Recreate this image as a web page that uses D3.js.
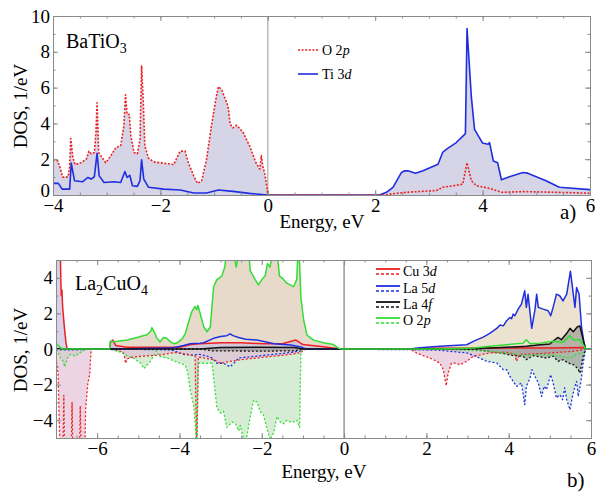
<!DOCTYPE html>
<html>
<head>
<meta charset="utf-8">
<script src="https://cdn.jsdelivr.net/npm/d3@7"></script>
<style>
  body { margin: 0; background: #fff; }
  text { font-family: "Liberation Serif", "Times New Roman", serif; }
</style>
</head>
<body>
<script>
// ---- panel a) BaTiO3 : [energy eV, DOS] ----
const btoO2p = [[-4,2.0],[-3.91,1.9],[-3.86,1.44],[-3.82,1.0],[-3.72,1.0],[-3.69,1.6],[-3.67,3.15],[-3.63,2.1],[-3.59,1.7],[-3.48,1.8],[-3.38,2.0],[-3.33,2.45],[-3.29,2.3],[-3.23,2.37],[-3.2,3.5],[-3.18,5.15],[-3.16,3.5],[-3.15,2.37],[-3.11,2.2],[-3.02,1.8],[-2.92,2.2],[-2.83,2.65],[-2.74,2.75],[-2.68,3.85],[-2.65,5.6],[-2.62,4.5],[-2.58,4.5],[-2.55,3.3],[-2.49,2.37],[-2.43,2.3],[-2.38,3.1],[-2.35,7.2],[-2.32,5.3],[-2.29,2.75],[-2.22,2.05],[-2.12,1.85],[-2.0,1.8],[-1.88,1.75],[-1.75,1.7],[-1.69,2.1],[-1.63,2.45],[-1.54,2.45],[-1.48,1.8],[-1.38,1.07],[-1.31,0.65],[-1.23,0.8],[-1.14,2.0],[-1.05,3.85],[-0.97,5.3],[-0.92,6.05],[-0.86,5.9],[-0.74,4.95],[-0.70,3.95],[-0.65,3.75],[-0.58,3.9],[-0.46,3.5],[-0.34,2.75],[-0.22,1.8],[-0.15,1.45],[-0.12,2.2],[-0.09,1.55],[-0.06,1.25],[-0.03,0.7],[0,0],[2.2,0],[2.27,0.05],[2.58,0.15],[3.14,0.25],[3.26,0.43],[3.63,0.6],[3.71,1.8],[3.79,0.8],[3.88,0.52],[4.13,0.37],[4.35,0.15],[4.75,0.19],[5.37,0.15],[6,0.1]];
const btoTi3d = [[-4,0.65],[-3.9,0.65],[-3.83,0.33],[-3.69,0.33],[-3.66,1.78],[-3.6,0.8],[-3.45,0.74],[-3.35,0.98],[-3.29,0.89],[-3.23,1.02],[-3.18,2.33],[-3.14,1.07],[-3.05,0.7],[-2.86,0.74],[-2.74,0.7],[-2.66,1.31],[-2.62,0.98],[-2.57,1.1],[-2.52,0.52],[-2.43,0.48],[-2.38,0.8],[-2.35,1.96],[-2.31,0.89],[-2.22,0.43],[-1.94,0.33],[-1.63,0.28],[-1.38,0.11],[-1.14,0.11],[-0.92,0.28],[-0.65,0.2],[-0.34,0.09],[0,0],[2.08,0],[2.21,0.15],[2.33,0.43],[2.49,1.26],[2.55,1.35],[2.61,1.35],[2.75,1.22],[2.89,1.35],[3.17,1.72],[3.26,2.4],[3.35,2.6],[3.51,2.93],[3.68,3.43],[3.71,9.3],[3.79,5.5],[3.85,3.67],[4.0,2.9],[4.10,2.83],[4.13,2.93],[4.2,1.9],[4.28,1.8],[4.35,0.85],[4.5,1.02],[4.75,1.26],[4.84,1.22],[5.18,0.8],[5.43,0.43],[6,0.3]];

// ---- panel b) La2CuO4 : spin up (+) and spin down (-) ----
const lcoCu3dUp = [[-7,6],[-6.9,6],[-6.88,3.6],[-6.87,3.0],[-6.855,3.3],[-6.84,2.4],[-6.8,1.3],[-6.76,0.4],[-6.73,0],[-5.7,0],[-5.68,0.35],[-5.62,0.5],[-5.55,0.2],[-5.27,0.1],[-4.0,0.1],[-3.72,0.25],[-3.5,0.3],[-3.0,0.35],[-2.5,0.35],[-2.0,0.3],[-1.5,0.3],[-1.17,0.5],[-1.0,0.25],[-0.5,0.12],[-0.1,0],[1.5,0],[2.0,0.04],[5.0,0.06],[5.8,0.08],[5.87,0],[6,0]];
const lcoCu3dDn = [[-7,-0.5],[-6.95,-1.4],[-6.9,-6],[-6.83,-6],[-6.81,-2.6],[-6.79,-6],[-6.63,-6],[-6.61,-3.0],[-6.59,-6],[-6.43,-6],[-6.41,-3.2],[-6.39,-6],[-6.3,-6],[-6.28,-3.4],[-6.23,-2.0],[-6.18,-1.4],[-6.15,-0.2],[-6.12,0],[-5.7,0],[-5.4,-0.15],[-5.36,-0.22],[-5.33,-0.5],[-5.31,-0.8],[-5.27,-0.55],[-5.13,-0.46],[-4.9,-0.4],[-4.5,-0.35],[-4.14,-0.2],[-3.8,-0.3],[-3.62,-0.4],[-3.58,-6],[-3.54,-0.45],[-3.17,-0.6],[-3.0,-0.8],[-2.77,-0.7],[-2.5,-0.6],[-2.12,-0.5],[-1.7,-0.4],[-1.3,-0.3],[-1.05,-0.2],[-0.98,-0.05],[-0.9,0],[1.6,0],[1.76,-0.22],[1.92,-0.37],[2.09,-0.51],[2.25,-0.69],[2.33,-0.79],[2.41,-1.16],[2.48,-2.06],[2.53,-1.35],[2.61,-0.79],[2.7,-0.8],[2.82,-0.88],[2.98,-0.69],[3.14,-0.41],[3.54,-0.22],[3.95,-0.19],[4.15,-0.3],[4.19,-0.69],[4.27,-0.3],[4.76,-0.26],[5.57,-0.13],[5.87,0],[6,0]];
const lcoLa5dUp = [[-7,0],[-5.7,0],[-4.2,0.05],[-3.9,0.2],[-3.74,0.3],[-3.5,0.33],[-3.41,0.35],[-3.17,0.6],[-3.0,0.7],[-2.85,0.75],[-2.77,0.85],[-2.7,0.75],[-2.56,0.65],[-2.4,0.55],[-2.12,0.5],[-1.7,0.3],[-1.3,0.22],[-1.05,0.12],[-0.98,0.05],[-0.9,0],[1.6,0],[1.84,0.07],[2.33,0.15],[2.98,0.24],[3.14,0.43],[3.38,0.67],[3.54,0.88],[3.71,1.16],[3.79,1.35],[3.87,1.3],[3.95,1.59],[4.03,1.77],[4.07,1.7],[4.11,1.96],[4.15,1.87],[4.23,2.24],[4.31,2.52],[4.39,3.27],[4.43,2.34],[4.47,3.08],[4.56,1.16],[4.64,2.24],[4.68,3.08],[4.72,2.34],[4.84,2.24],[4.96,2.15],[5.02,1.87],[5.08,2.34],[5.16,3.08],[5.24,2.99],[5.32,2.7],[5.41,3.08],[5.5,4.37],[5.57,3.08],[5.61,2.34],[5.65,3.46],[5.71,3.08],[5.77,1.25],[5.83,0.33],[5.87,0],[6,0]];
const lcoLa5dDn = [[-7,0],[-6.95,-0.05],[-6.5,-0.05],[-6.2,0],[-5.7,0],[-4.2,-0.05],[-3.9,-0.3],[-3.7,-0.35],[-3.5,-0.3],[-3.33,-0.4],[-3.21,-0.5],[-3.09,-0.8],[-2.93,-0.8],[-2.77,-1.0],[-2.68,-0.8],[-2.56,-0.5],[-2.12,-0.4],[-1.7,-0.3],[-1.3,-0.2],[-1.05,-0.1],[-0.98,0],[1.68,-0.04],[2.33,-0.07],[2.98,-0.22],[3.3,-0.51],[3.46,-0.69],[3.71,-0.79],[3.79,-0.97],[3.87,-1.16],[3.95,-1.16],[4.03,-1.54],[4.11,-1.82],[4.19,-2.1],[4.31,-1.91],[4.39,-3.13],[4.43,-2.1],[4.52,-1.63],[4.56,-1.16],[4.64,-1.54],[4.72,-1.91],[4.8,-2.66],[4.86,-2.1],[4.92,-2.28],[5.02,-1.44],[5.08,-1.91],[5.16,-2.75],[5.24,-2.57],[5.31,-2.85],[5.36,-2.19],[5.41,-2.85],[5.49,-3.41],[5.55,-2.66],[5.61,-2.1],[5.65,-1.82],[5.69,-2.66],[5.75,-1.91],[5.81,-0.79],[5.87,0],[6,0]];
const lcoLa4fUp = [[-7,0],[-3.5,0],[-3.0,0.08],[-2.0,0.1],[-1.2,0.08],[-1.0,0],[3.14,0.02],[3.95,0.1],[4.43,0.15],[4.76,0.24],[5.0,0.28],[5.12,0.52],[5.2,0.65],[5.28,0.52],[5.41,0.88],[5.49,1.16],[5.57,0.97],[5.67,1.25],[5.73,1.29],[5.81,0.52],[5.87,0],[6,0]];
const lcoLa4fDn = [[-7,0],[-3.5,0],[-3.2,-0.1],[-2.0,-0.12],[-1.2,-0.1],[-1.0,0],[3.14,-0.02],[3.79,-0.22],[4.11,-0.37],[4.35,-0.41],[4.43,-0.6],[4.6,-0.37],[4.92,-0.51],[5.08,-0.4],[5.2,-0.69],[5.32,-0.6],[5.45,-0.79],[5.57,-0.88],[5.67,-1.07],[5.73,-1.35],[5.77,-0.9],[5.81,-0.4],[5.87,0],[6,0]];
const lcoO2pUp = [[-7,0.35],[-6.97,0.25],[-6.9,0.1],[-6.85,0],[-5.7,0],[-5.68,0.43],[-5.6,0.41],[-5.45,0.45],[-5.27,0.5],[-5.1,0.6],[-4.95,0.7],[-4.79,0.8],[-4.7,1.0],[-4.67,1.2],[-4.6,0.9],[-4.55,0.6],[-4.47,0.4],[-4.39,0.65],[-4.31,0.6],[-4.22,0.4],[-4.14,0.3],[-4.06,0.35],[-3.94,0.55],[-3.86,0.85],[-3.78,1.5],[-3.7,2.1],[-3.62,2.4],[-3.58,2.2],[-3.55,2.45],[-3.41,1.25],[-3.33,0.97],[-3.25,1.25],[-3.17,3.5],[-3.09,3.9],[-2.97,4.1],[-2.9,4.6],[-2.85,5.5],[-2.7,5.5],[-2.62,4.6],[-2.55,5.5],[-2.32,5.5],[-2.28,4.4],[-2.16,3.9],[-2.08,3.6],[-2.0,3.9],[-1.92,4.1],[-1.86,4.8],[-1.8,4.6],[-1.73,5.5],[-1.63,5.5],[-1.57,4.1],[-1.51,4.0],[-1.39,3.7],[-1.23,3.5],[-1.15,3.9],[-1.12,5.5],[-1.08,4.8],[-1.05,2.9],[-0.98,1.6],[-0.9,0.78],[-0.74,0.5],[-0.5,0.35],[-0.26,0.25],[-0.14,0.05],[-0.06,0],[2.33,0],[3.14,0.05],[3.54,0.15],[3.95,0.24],[4.35,0.33],[4.43,0.52],[4.52,0.3],[4.76,0.33],[5.08,0.43],[5.32,0.37],[5.49,0.75],[5.57,0.52],[5.73,0.52],[5.81,0.24],[5.87,0],[6,0]];
const lcoO2pDn = [[-7,-0.05],[-6.97,-0.1],[-6.89,-0.5],[-6.82,-0.7],[-6.79,-1.0],[-6.72,-0.5],[-6.65,-0.3],[-6.53,-0.4],[-6.41,-0.2],[-6.3,-0.05],[-6.2,0],[-5.7,0],[-5.4,-0.2],[-5.27,-0.4],[-5.13,-0.5],[-5.0,-0.7],[-4.94,-0.8],[-4.86,-1.1],[-4.79,-0.9],[-4.71,-0.7],[-4.63,-0.4],[-4.56,-0.1],[-4.5,-0.4],[-4.3,-0.5],[-4.1,-0.7],[-3.86,-0.9],[-3.8,-1.3],[-3.74,-2.3],[-3.65,-3.2],[-3.61,-4.5],[-3.58,-6],[-3.55,-0.8],[-3.41,-0.8],[-3.21,-0.8],[-3.09,-3.3],[-3.0,-3.6],[-2.93,-3.5],[-2.85,-4.4],[-2.72,-4.1],[-2.64,-4.2],[-2.56,-4.6],[-2.52,-4.3],[-2.44,-5.1],[-2.36,-4.9],[-2.28,-3.8],[-2.2,-2.9],[-2.16,-3.0],[-2.12,-2.95],[-2.04,-3.5],[-1.96,-3.7],[-1.88,-4.4],[-1.8,-5.1],[-1.71,-4.7],[-1.63,-3.8],[-1.55,-4.1],[-1.47,-4.2],[-1.39,-4.0],[-1.31,-4.1],[-1.23,-4.1],[-1.15,-4.0],[-1.08,-4.4],[-1.05,-0.1],[-0.98,0],[2.33,0],[3.54,-0.13],[3.95,-0.22],[4.43,-0.37],[4.76,-0.3],[5.16,-0.37],[5.49,-0.51],[5.65,-0.3],[5.81,-0.2],[5.87,0],[6,0]];

const btoTicksX = [-4, -2, 0, 2, 4, 6];
const btoTicksY = [0, 2, 4, 6, 8, 10];
const lcoTicksX = [-6, -4, -2, 0, 2, 4, 6];
const lcoTicksY = [-4, -2, 0, 2, 4];

const W = 597, H = 493;
const svg = d3.select('body').append('svg').attr('width', W).attr('height', H);

function panel(id, xd, yd, box, ticksX, ticksY) {
  const x = d3.scaleLinear().domain(xd).range([box.l, box.r]);
  const y = d3.scaleLinear().domain(yd).range([box.b, box.t]);
  svg.append('clipPath').attr('id', id).append('rect')
     .attr('x', box.l).attr('y', box.t).attr('width', box.r - box.l).attr('height', box.b - box.t);
  const plot = svg.append('g').attr('clip-path', 'url(#' + id + ')');
  const minorX = d3.range(xd[0], xd[1] + 0.01, 0.5);
  const minorY = d3.range(yd[0], yd[1] + 0.01, 1);
  const fmt = d3.format('d');
  const ax = svg.append('g').attr('class', 'axes');
  ax.append('g').attr('transform', 'translate(0,' + box.b + ')')
    .call(d3.axisBottom(x).tickValues(minorX).tickSize(-2.5).tickFormat(''));
  ax.append('g').attr('transform', 'translate(0,' + box.b + ')')
    .call(d3.axisBottom(x).tickValues(ticksX).tickSize(-5).tickPadding(4).tickFormat(fmt));
  ax.append('g').attr('transform', 'translate(0,' + box.t + ')')
    .call(d3.axisTop(x).tickValues(minorX).tickSize(-2.5).tickFormat(''));
  ax.append('g').attr('transform', 'translate(0,' + box.t + ')')
    .call(d3.axisTop(x).tickValues(ticksX).tickSize(-5).tickFormat(''));
  ax.append('g').attr('transform', 'translate(' + box.l + ',0)')
    .call(d3.axisLeft(y).tickValues(minorY).tickSize(-2.5).tickFormat(''));
  ax.append('g').attr('class', 'yl').attr('transform', 'translate(' + box.l + ',0)')
    .call(d3.axisLeft(y).tickValues(ticksY).tickSize(-5).tickPadding(3).tickFormat(fmt));
  ax.append('g').attr('transform', 'translate(' + box.r + ',0)')
    .call(d3.axisRight(y).tickValues(minorY).tickSize(-2.5).tickFormat(''));
  ax.append('g').attr('transform', 'translate(' + box.r + ',0)')
    .call(d3.axisRight(y).tickValues(ticksY).tickSize(-5).tickFormat(''));
  ax.selectAll('.domain, .tick line').attr('stroke', '#8a8a8a').attr('stroke-width', 1);
  ax.selectAll('.tick text').attr('fill', '#000').style('font-size', '19px')
    .style('font-family', '"Liberation Serif", serif');
  return { x, y, plot, ax };
}

function area(p, data, color, op) {
  p.plot.append('path').datum(data)
    .attr('d', d3.area().x(d => p.x(d[0])).y0(p.y(0)).y1(d => p.y(d[1])))
    .attr('fill', color).attr('fill-opacity', op);
}
function line(p, data, color, w, dash) {
  p.plot.append('path').datum(data)
    .attr('d', d3.line().x(d => p.x(d[0])).y(d => p.y(d[1])))
    .attr('fill', 'none').attr('stroke', color).attr('stroke-width', w)
    .attr('stroke-dasharray', dash || null).attr('stroke-linejoin', 'round');
}

// ---------- a) ----------
const pa = panel('clipA', [-4, 6], [0, 10], { l: 53, r: 590, t: 16, b: 195 }, btoTicksX, btoTicksY);
// lift the bottom "0" label a little, as in the original, so it clears "−4"
pa.ax.selectAll('.yl .tick text').filter(d => d === 0).attr('dy', '0.1em');
area(pa, btoO2p, '#d5d5e7', 1);
area(pa, btoTi3d, '#d5d5e7', 1);
pa.plot.append('line').attr('x1', pa.x(0)).attr('x2', pa.x(0)).attr('y1', 16).attr('y2', 195)
  .attr('stroke', '#aaa').attr('stroke-width', 1.2);
line(pa, btoTi3d, '#1f2fe0', 1.6);
line(pa, btoO2p, '#ee2020', 1.6, '2,1.6');

svg.append('text').attr('x', 66).attr('y', 48).style('font-size', '20px')
  .call(t => { t.append('tspan').text('BaTiO'); t.append('tspan').attr('dy', 5).style('font-size', '14px').text('3'); });

const legA = [{ n: 'O 2', s: 'p', c: '#ee2020', d: '2,1.6', y: 50 }, { n: 'Ti 3', s: 'd', c: '#1f2fe0', d: null, y: 74 }];
legA.forEach(l => {
  svg.append('line').attr('x1', 298).attr('x2', 318).attr('y1', l.y).attr('y2', l.y)
    .attr('stroke', l.c).attr('stroke-width', 1.6).attr('stroke-dasharray', l.d);
  svg.append('text').attr('x', 322).attr('y', l.y + 5).style('font-size', '14px')
    .call(t => { t.append('tspan').text(l.n); t.append('tspan').style('font-style', 'italic').text(l.s); });
});

svg.append('text').attr('x', 322).attr('y', 228).attr('text-anchor', 'middle').style('font-size', '19px').text('Energy, eV');
svg.append('text').attr('transform', 'translate(27,106) rotate(-90)').attr('text-anchor', 'middle').style('font-size', '19px').text('DOS, 1/eV');
svg.append('text').attr('x', 560).attr('y', 219).style('font-size', '21px').text('a)');

// ---------- b) ----------
const pb = panel('clipB', [-7, 6], [-5, 5], { l: 56, r: 591, t: 260, b: 438 }, lcoTicksX, lcoTicksY);
area(pb, lcoLa5dDn, '#d7ead9', 1);
area(pb, lcoO2pDn, '#d6ecd4', 1);
area(pb, lcoO2pUp, '#e7dacb', 1);
area(pb, lcoLa5dUp, '#ece2d0', 1);
area(pb, lcoCu3dDn, '#dfb8d4', 0.6);
area(pb, lcoCu3dUp, '#c9bde0', 0.7);
area(pb, lcoLa4fUp, '#777', 0.45);
area(pb, lcoLa4fDn, '#777', 0.45);
pb.plot.append('line').attr('x1', pb.x(0)).attr('x2', pb.x(0)).attr('y1', 260).attr('y2', 438)
  .attr('stroke', '#666').attr('stroke-width', 1);

const dash = '2,2';
line(pb, lcoLa4fDn, '#111', 1.3, dash);
line(pb, lcoLa5dDn, '#1f2fe0', 1.3, dash);
line(pb, lcoCu3dDn, '#ee2020', 1.3, dash);
line(pb, lcoO2pDn, '#33dd33', 1.3, dash);
line(pb, lcoCu3dUp, '#ee2020', 1.5);
line(pb, lcoLa5dUp, '#1f2fe0', 1.5);
line(pb, lcoLa4fUp, '#111', 1.5);
line(pb, lcoO2pUp, '#33dd33', 1.5);

svg.append('text').attr('x', 75).attr('y', 290).style('font-size', '20px')
  .call(t => {
    t.append('tspan').text('La');
    t.append('tspan').attr('dy', 5).style('font-size', '14px').text('2');
    t.append('tspan').attr('dy', -5).text('CuO');
    t.append('tspan').attr('dy', 5).style('font-size', '14px').text('4');
  });

const legB = [
  { n: 'Cu 3', s: 'd', c: '#ee2020', y: 269 },
  { n: 'La 5', s: 'd', c: '#1f2fe0', y: 286 },
  { n: 'La 4', s: 'f', c: '#111', y: 302 },
  { n: 'O 2', s: 'p', c: '#33dd33', y: 318 }
];
legB.forEach(l => {
  svg.append('line').attr('x1', 376).attr('x2', 400).attr('y1', l.y).attr('y2', l.y)
    .attr('stroke', l.c).attr('stroke-width', 1.8);
  svg.append('line').attr('x1', 376).attr('x2', 400).attr('y1', l.y + 5).attr('y2', l.y + 5)
    .attr('stroke', l.c).attr('stroke-width', 1.3).attr('stroke-dasharray', '3,2');
  svg.append('text').attr('x', 403).attr('y', l.y + 7).style('font-size', '14px')
    .call(t => { t.append('tspan').text(l.n); t.append('tspan').style('font-style', 'italic').text(l.s); });
});

svg.append('text').attr('x', 324).attr('y', 478).attr('text-anchor', 'middle').style('font-size', '19px').text('Energy, eV');
svg.append('text').attr('transform', 'translate(27,350) rotate(-90)').attr('text-anchor', 'middle').style('font-size', '19px').text('DOS, 1/eV');
svg.append('text').attr('x', 567).attr('y', 487).style('font-size', '21px').text('b)');
</script>
</body>
</html>
